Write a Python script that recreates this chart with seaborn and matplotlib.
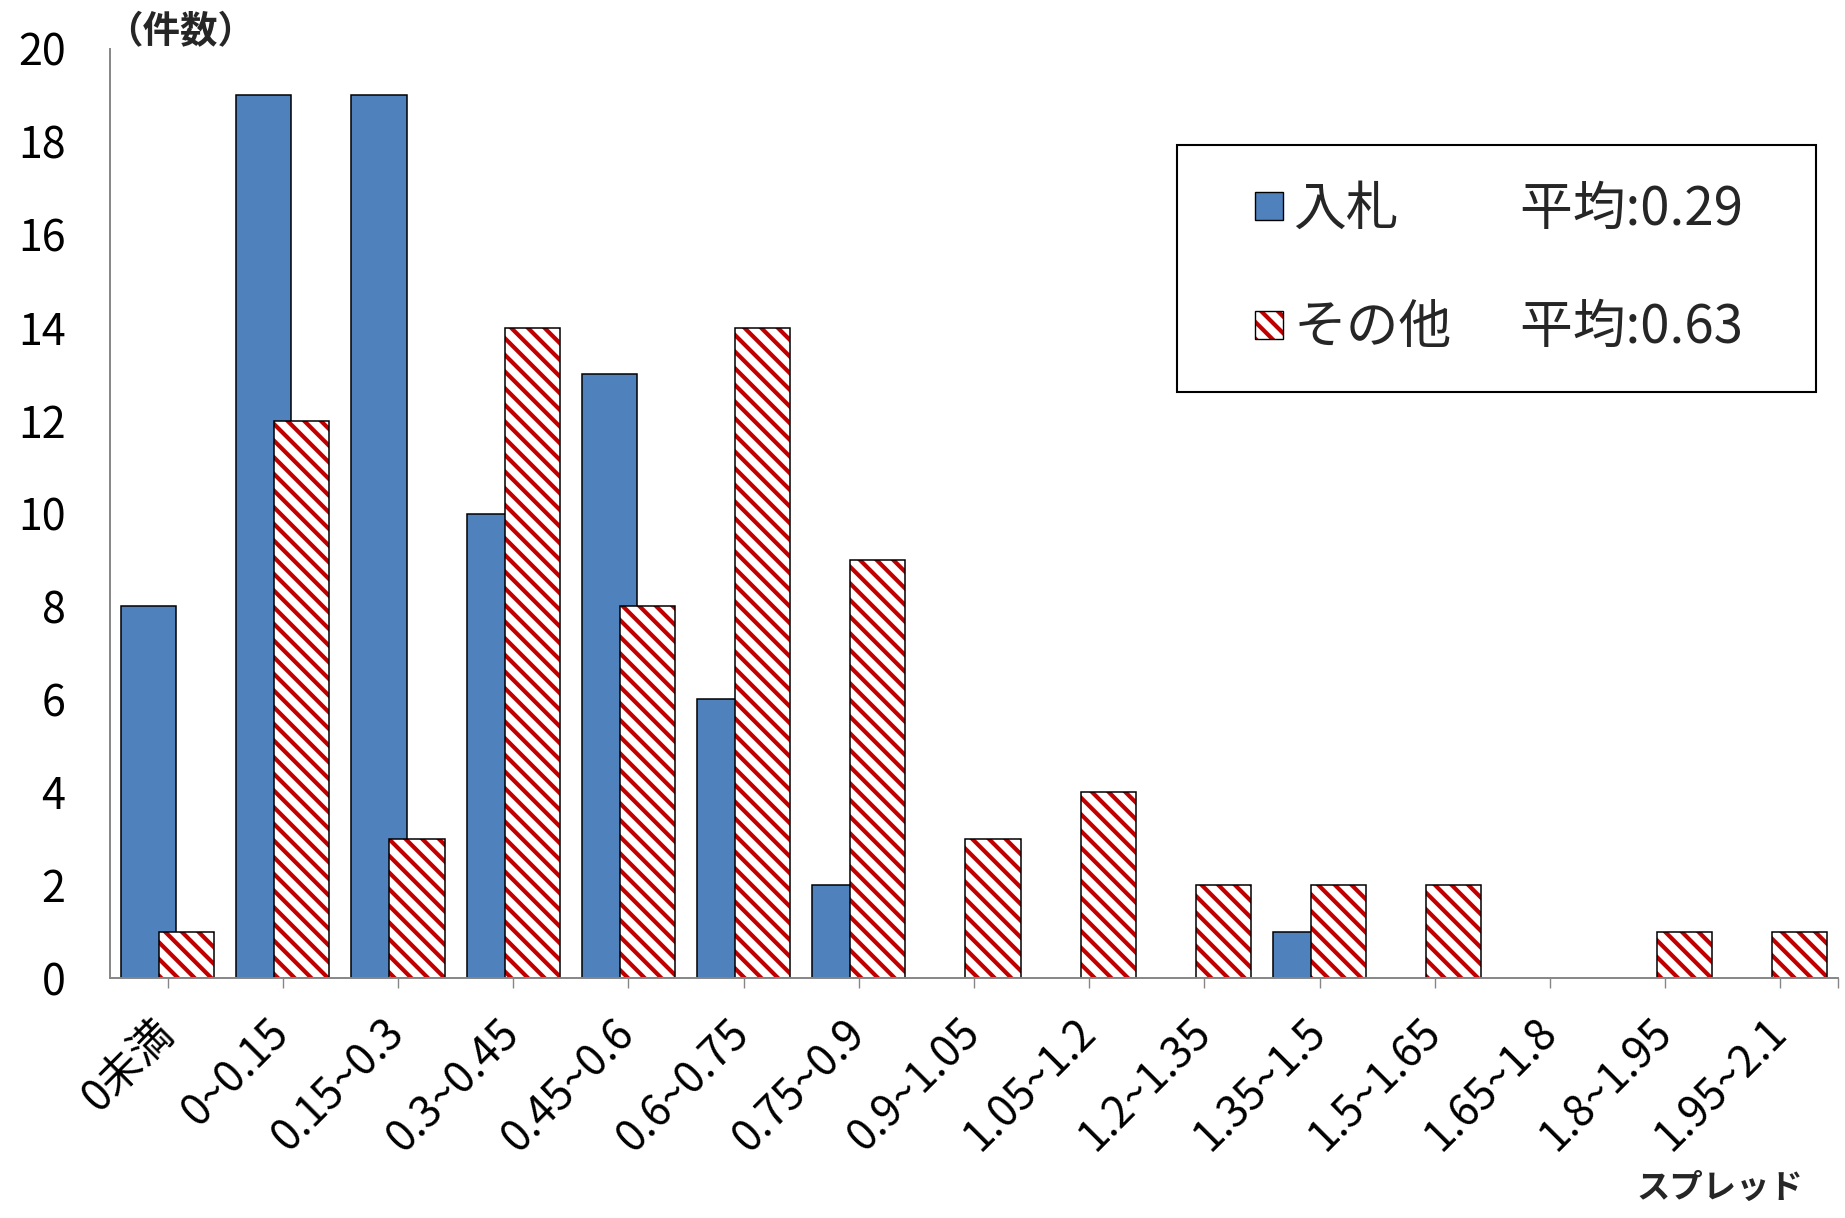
import matplotlib
matplotlib.use("Agg")
import numpy as np
import pandas as pd
import matplotlib.pyplot as plt
from matplotlib.patches import Patch, Rectangle
from matplotlib.legend_handler import HandlerPatch
from matplotlib.colors import to_rgba
import seaborn as sns

# ---------------- data ----------------
categories = ["0未満", "0~0.15", "0.15~0.3", "0.3~0.45", "0.45~0.6", "0.6~0.75",
              "0.75~0.9", "0.9~1.05", "1.05~1.2", "1.2~1.35", "1.35~1.5",
              "1.5~1.65", "1.65~1.8", "1.8~1.95", "1.95~2.1"]
bid_counts = [8, 19, 19, 10, 13, 6, 2, 0, 0, 0, 1, 0, 0, 0, 0]
other_counts = [1, 12, 3, 14, 8, 14, 9, 3, 4, 2, 2, 2, 0, 1, 1]
series_names = ["入札", "その他"]
series_means = ["平均:0.29", "平均:0.63"]
y_ticks = [0, 2, 4, 6, 8, 10, 12, 14, 16, 18, 20]
y_title = "（件数）"
x_title = "スプレッド"

# ---------------- style ----------------
sns.set_theme(style="white")
plt.rcParams["font.family"] = ["Noto Sans CJK JP", "DejaVu Sans"]
plt.rcParams["hatch.linewidth"] = 3.0

BLUE = "#4F81BD"
RED = "#C00000"
AXIS_GREY = "#868686"

df = pd.DataFrame({
    "区間": categories * 2,
    "件数": bid_counts + other_counts,
    "系列": [series_names[0]] * len(categories) + [series_names[1]] * len(categories),
})

W, H = 1845, 1218
fig = plt.figure(figsize=(W / 100, H / 100), dpi=100)
ax = fig.add_axes([110 / W, 1 - 978 / H, 1728 / W, 929 / H])

sns.barplot(data=df, x="区間", y="件数", hue="系列", order=categories,
            hue_order=series_names,
            palette={series_names[0]: BLUE, series_names[1]: "white"},
            saturation=1, width=0.66, edgecolor="black", linewidth=1.1,
            errorbar=None, legend=False, ax=ax)

bar_w = 0.48
for ci, cont in enumerate(ax.containers):
    for p in cont.patches:
        cx = p.get_x() + p.get_width() / 2
        p.set_width(bar_w)
        p.set_x(cx - bar_w / 2)
        if p.get_height() == 0:
            p.set_visible(False)
        if ci == 1:
            p.set_hatch("\\\\")
            p._hatch_color = to_rgba(RED)

ax.set_xlim(-0.5, len(categories) - 0.5)
ax.set_ylim(y_ticks[0], y_ticks[-1])
ax.set_yticks(y_ticks)
ax.set_xlabel("")
ax.set_ylabel("")
for s in ["top", "right"]:
    ax.spines[s].set_visible(False)
for s in ["left", "bottom"]:
    ax.spines[s].set_color(AXIS_GREY)
    ax.spines[s].set_linewidth(1.4)

ax.tick_params(axis="y", length=0, pad=32, labelsize=31, labelcolor="black")
ax.tick_params(axis="x", which="both", bottom=True, length=7, width=1.0,
               color=AXIS_GREY, pad=28, labelsize=31, labelcolor="black")
ax.set_xticks([len(categories) - 0.5], minor=True)
plt.setp(ax.get_xticklabels(), rotation=45, ha="right", va="center",
         rotation_mode="anchor")

fig.text(105 / W, 1 - 32 / H, y_title, ha="left", va="center",
         fontsize=27, fontweight="bold")
fig.text(1803 / W, 1 - 1188 / H, x_title, ha="right", va="center",
         fontsize=24, fontweight="bold")

# ---------------- legend ----------------
def square_patch(legend, orig_handle, xdescent, ydescent, width, height, fontsize):
    s = 0.53 * fontsize
    return Rectangle((-xdescent + width - s, -ydescent + (height - s) / 2), s, s)

h_bid = Patch(facecolor=BLUE, edgecolor="black", linewidth=1.0)
h_other = Patch(facecolor="white", edgecolor="black", linewidth=1.0, hatch="\\\\")
h_other._hatch_color = to_rgba(RED)
blank1 = Patch(facecolor="none", edgecolor="none")
blank2 = Patch(facecolor="none", edgecolor="none")

leg = ax.legend(handles=[h_bid, h_other, blank1, blank2],
                labels=[series_names[0], series_names[1],
                        series_means[0] + "   ", series_means[1] + "   "],
                ncol=2, loc="upper left",
                bbox_to_anchor=(1177 / W, 1 - 145 / H), bbox_transform=fig.transFigure,
                borderaxespad=0, fontsize=38, frameon=True, fancybox=False,
                edgecolor="black", framealpha=1, borderpad=0.7, labelspacing=1.2,
                handlelength=1.3, handleheight=0.7, handletextpad=0.2,
                columnspacing=-0.2,
                handler_map={Patch: HandlerPatch(patch_func=square_patch)})
leg.get_frame().set_linewidth(1.5)

fig.savefig("out.png", dpi=100)
